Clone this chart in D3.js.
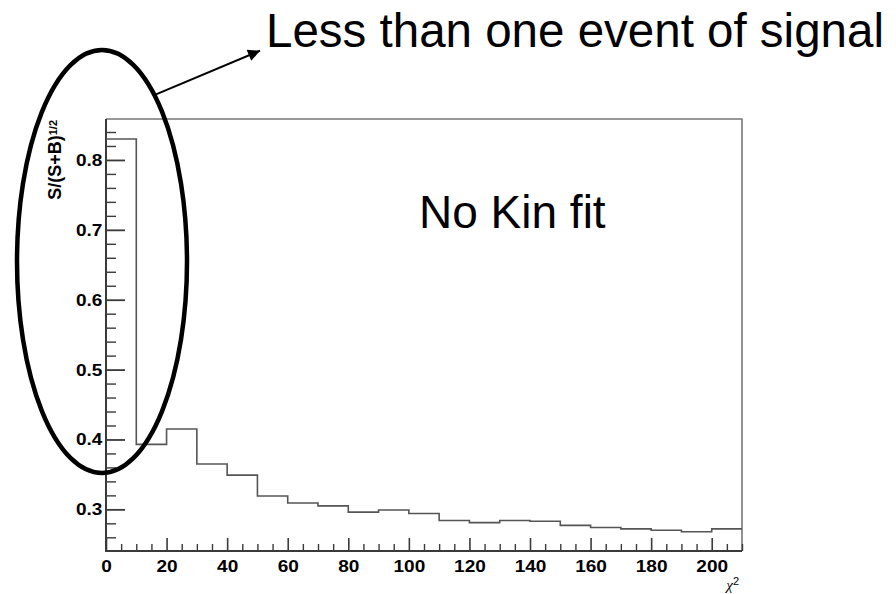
<!DOCTYPE html>
<html>
<head>
<meta charset="utf-8">
<script src="https://cdn.jsdelivr.net/npm/d3@7"></script>
<style>
  html, body { margin: 0; padding: 0; background: #fff; }
  svg { display: block; }
</style>
</head>
<body>
<script>
// Bin lower edges of the chi^2 histogram (bin width 10) and the closing edge
const binEdges = [0, 10, 20, 30, 40, 50, 60, 70, 80, 90, 100, 110, 120, 130, 140, 150, 160, 170, 180, 190, 200, 210];
// S/sqrt(S+B) per bin
const significance = [0.830, 0.393, 0.415, 0.365, 0.349, 0.319, 0.309, 0.305, 0.296, 0.299, 0.294,
                      0.284, 0.281, 0.284, 0.283, 0.277, 0.274, 0.272, 0.270, 0.268, 0.272];
// Labelled axis ticks
const xTickValues = [0, 20, 40, 60, 80, 100, 120, 140, 160, 180, 200];
const yTickValues = [0.3, 0.4, 0.5, 0.6, 0.7, 0.8];

const W = 896, H = 594;
const frame = { left: 106, right: 742, top: 119, bottom: 551 };

const svg = d3.select("body").append("svg")
  .attr("width", W).attr("height", H)
  .attr("viewBox", `0 0 ${W} ${H}`);

const x = d3.scaleLinear().domain([0, 210]).range([frame.left, frame.right]);
const y = d3.scaleLinear().domain([0.2404, 0.8586]).range([frame.bottom, frame.top]);

const axisColor = "#3a3a3a";
const tickFont = "'Liberation Sans', Arial, Helvetica, sans-serif";

// Frame (top and right sides)
svg.append("path")
  .attr("d", `M${frame.left},${frame.top}H${frame.right}V${frame.bottom}`)
  .attr("fill", "none").attr("stroke", "#777").attr("stroke-width", 1.6);

// Minor ticks
const xMinor = x.ticks(42).filter(v => !xTickValues.includes(v));
const yMinor = y.ticks(31).filter(v => !yTickValues.some(t => Math.abs(t - v) < 1e-9));

svg.append("g")
  .attr("transform", `translate(0,${frame.bottom})`)
  .call(d3.axisBottom(x).tickValues(xMinor).tickSizeInner(-7).tickSizeOuter(0).tickFormat(""))
  .call(g => g.select(".domain").remove())
  .call(g => g.selectAll("line").attr("stroke", axisColor).attr("stroke-width", 1.4));

svg.append("g")
  .attr("transform", `translate(${frame.left},0)`)
  .call(d3.axisLeft(y).tickValues(yMinor).tickSizeInner(-10).tickSizeOuter(0).tickFormat(""))
  .call(g => g.select(".domain").remove())
  .call(g => g.selectAll("line").attr("stroke", axisColor).attr("stroke-width", 1.4));

// Major ticks with labels (wide bold digits)
const styleLabels = g => g.selectAll("text")
  .attr("fill", "#000").attr("font-family", tickFont)
  .attr("font-weight", "bold").attr("font-size", 17)
  .attr("transform", "scale(1.12,1)");

svg.append("g")
  .attr("transform", `translate(0,${frame.bottom})`)
  .call(d3.axisBottom(x).tickValues(xTickValues).tickSizeInner(-13).tickSizeOuter(0)
        .tickPadding(9).tickFormat(d3.format("d")))
  .call(g => g.select(".domain").remove())
  .call(g => g.selectAll("line").attr("stroke", axisColor).attr("stroke-width", 1.6))
  .call(styleLabels);

svg.append("g")
  .attr("transform", `translate(${frame.left},0)`)
  .call(d3.axisLeft(y).tickValues(yTickValues).tickSizeInner(-19).tickSizeOuter(0)
        .tickPadding(3.2).tickFormat(d3.format(".1f")))
  .call(g => g.select(".domain").remove())
  .call(g => g.selectAll("line").attr("stroke", axisColor).attr("stroke-width", 1.8))
  .call(styleLabels);

// Axis lines
svg.append("path")
  .attr("d", `M${frame.left},${frame.top}V${frame.bottom}H${frame.right}`)
  .attr("fill", "none").attr("stroke", axisColor).attr("stroke-width", 2);

// Histogram outline
const steps = significance.map((v, i) => [binEdges[i], v]);
steps.push([binEdges[binEdges.length - 1], significance[significance.length - 1]]);
svg.append("path")
  .datum(steps)
  .attr("d", d3.line().x(d => x(d[0])).y(d => y(d[1])).curve(d3.curveStepAfter))
  .attr("fill", "none").attr("stroke", "#555").attr("stroke-width", 1.6);

// Axis titles
const yTitle = svg.append("text")
  .attr("transform", "translate(61,120) rotate(-90)")
  .attr("text-anchor", "end")
  .attr("font-family", tickFont).attr("font-weight", "bold").attr("font-size", 18)
  .attr("fill", "#000");
yTitle.append("tspan").text("S/(S+B)");
yTitle.append("tspan").attr("dy", -4).attr("font-size", 11).text("1/2");

const xTitle = svg.append("text")
  .attr("x", 739).attr("y", 590)
  .attr("text-anchor", "end")
  .attr("font-family", "'Liberation Serif', 'Times New Roman', serif")
  .attr("font-size", 15).attr("fill", "#000");
xTitle.append("tspan").attr("font-style", "italic").text("χ");
xTitle.append("tspan").attr("dy", -5).attr("font-size", 11)
  .attr("font-family", tickFont).text("2");

// Annotation: label in the plot
svg.append("text")
  .attr("x", 419).attr("y", 228)
  .attr("font-family", tickFont).attr("font-size", 46).attr("fill", "#000")
  .text("No Kin fit");

// Annotation: highlighted region and its callout
svg.append("ellipse")
  .attr("cx", 102).attr("cy", 261.5).attr("rx", 85).attr("ry", 211.5)
  .attr("fill", "none").attr("stroke", "#000").attr("stroke-width", 4.5);

svg.append("defs").append("marker")
  .attr("id", "arrowhead")
  .attr("viewBox", "0 0 10 10").attr("refX", 10).attr("refY", 5)
  .attr("markerWidth", 16).attr("markerHeight", 12)
  .attr("markerUnits", "userSpaceOnUse")
  .attr("orient", "auto")
  .append("path").attr("d", "M0,0L10,5L0,10Z").attr("fill", "#000");

svg.append("line")
  .attr("x1", 156).attr("y1", 94.3).attr("x2", 260).attr("y2", 50.7)
  .attr("stroke", "#000").attr("stroke-width", 2)
  .attr("marker-end", "url(#arrowhead)");

svg.append("text")
  .attr("x", 266).attr("y", 47)
  .attr("font-family", tickFont).attr("font-size", 47.5).attr("fill", "#000")
  .text("Less than one event of signal");
</script>
</body>
</html>
